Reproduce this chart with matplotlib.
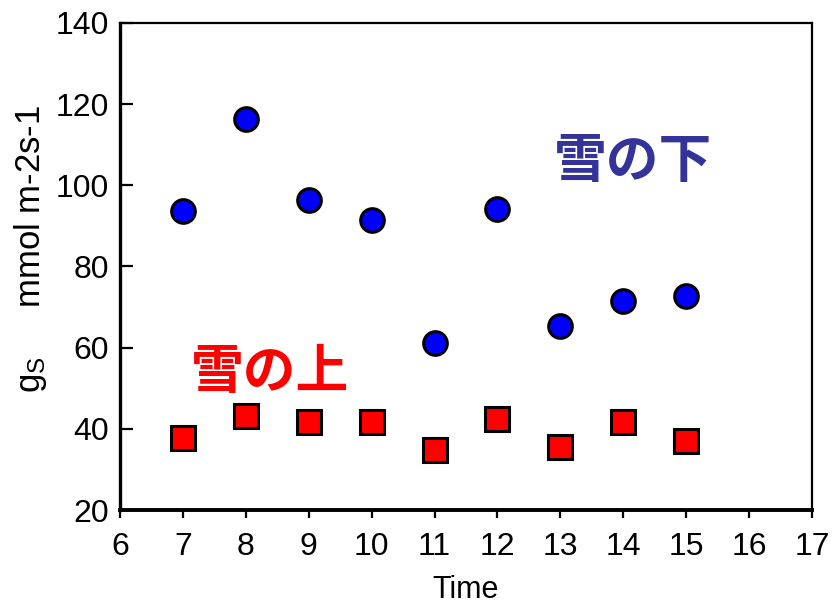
import matplotlib
matplotlib.use("Agg")
import matplotlib.pyplot as plt

time = [7, 8, 9, 10, 11, 12, 13, 14, 15]
under_snow = [93.6, 116.3, 96.3, 91.4, 61.2, 94.2, 65.3, 71.4, 72.8]
on_snow = [37.7, 43.1, 41.8, 41.8, 34.8, 42.5, 35.6, 41.8, 37.0]
xticks = list(range(6, 18))
yticks = [20, 40, 60, 80, 100, 120, 140]

plt.rcParams['font.family'] = ['Liberation Sans', 'DejaVu Sans']

fig = plt.figure(figsize=(8.34, 6.06), dpi=100)
ax = fig.add_axes([120/834, 1 - 510/606, (812-120)/834, (510-23)/606])

ax.plot(time, under_snow, linestyle='none', marker='o', markersize=17,
        markerfacecolor='#0000ff', markeredgecolor='black', markeredgewidth=2.2, clip_on=False)
ax.plot(time, on_snow, linestyle='none', marker='s', markersize=17,
        markerfacecolor='#ff0000', markeredgecolor='black', markeredgewidth=2.2, clip_on=False)

ax.set_xlim(6, 17)
ax.set_ylim(20, 140)
ax.set_xticks(xticks)
ax.set_yticks(yticks)
ax.tick_params(axis='y', direction='in', length=9, width=1.6, labelsize=23, pad=8)
ax.tick_params(axis='x', direction='out', length=6, width=1.6, labelsize=23, pad=10)

for side, lw in [('left', 2.4), ('bottom', 2.8), ('top', 1.6), ('right', 1.6)]:
    ax.spines[side].set_linewidth(lw)

ax.set_xlabel('Time', fontsize=22, labelpad=9)

fig.text(0.036, 0.59, r'g$\mathregular{_S}$     mmol m-2s-1', rotation=90,
         ha='center', va='center', fontsize=25)

cjk = ['Noto Sans CJK JP', 'DejaVu Sans']
ax.text(14.16, 105.8, '雪の下', color='#333399', fontsize=38, fontweight='bold',
        family=cjk, ha='center', va='center')
ax.text(8.38, 54.0, '雪の上', color='#ff0000', fontsize=38, fontweight='bold',
        family=cjk, ha='center', va='center')

fig.savefig('out.png', dpi=100)
